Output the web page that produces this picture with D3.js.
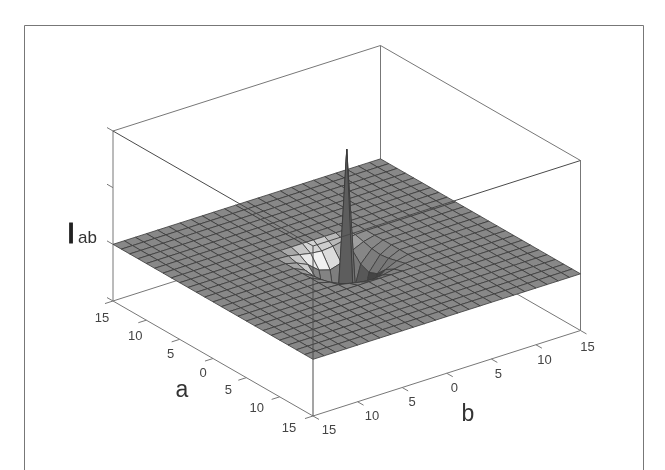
<!DOCTYPE html>
<html>
<head>
<meta charset="utf-8">
<script src="https://cdnjs.cloudflare.com/ajax/libs/d3/7.8.5/d3.min.js"></script>
<style>
  html, body { margin: 0; padding: 0; background: #fff; }
  svg { display: block; filter: blur(0.35px); }
  text { font-family: "Liberation Sans", Arial, sans-serif; }
</style>
</head>
<body>
<script>
// grid nodes on both axes
var gridA = [-15, -13.75, -12.5, -11.25, -10, -8.75, -7.5, -6.25, -5, -3.75, -2.5, -1.25, 0,
  1.25, 2.5, 3.75, 5, 6.25, 7.5, 8.75, 10, 11.25, 12.5, 13.75, 15];
var gridB = gridA.slice();
var pitA = [-3.75, -2.5, -1.25, 0, 1.25, 2.5, 3.75];
var pitB = [-3.75, -2.5, -1.25, 0, 1.25, 2.5, 3.75];

// heights, everything outside the pit sits at flatLevel
var flatLevel = 0;
var pitHeights = [
  [-0.01, -0.05, -0.09, -0.11, -0.09, -0.05, -0.01],
  [-0.05, -0.14, -0.30, -0.36, -0.30, -0.14, -0.05],
  [-0.09, -0.30, -1.0, -1.3, -1.0, -0.30, -0.09],
  [-0.11, -0.36, -1.3, 1.94, -1.3, -0.36, -0.11],
  [-0.09, -0.30, -1.0, -1.3, -1.0, -0.30, -0.09],
  [-0.05, -0.14, -0.30, -0.36, -0.30, -0.14, -0.05],
  [-0.01, -0.05, -0.09, -0.11, -0.09, -0.05, -0.01]
];

var abTicks = [-15, -10, -5, 0, 5, 10, 15];
var abTickLabels = ['15', '10', '5', '0', '5', '10', '15'];
var zTicks = [-1, 0, 1, 2];

var width = 665;
var height = 470;

var svg = d3.select('body').append('svg')
  .attr('width', width)
  .attr('height', height);

// frame, it runs off the bottom of the picture
svg.append('path')
  .attr('d', 'M24.5,470V25.5H643.5V470')
  .attr('fill', 'none')
  .attr('stroke', '#777')
  .attr('stroke-width', 1);

// oblique projection, each data axis gets its own x and y scale
var axX = d3.scaleLinear().domain([-15, 15]).range([0, 200]);
var axY = d3.scaleLinear().domain([-15, 15]).range([0, 115]);
var bxX = d3.scaleLinear().domain([-15, 15]).range([0, 267.5]);
var bxY = d3.scaleLinear().domain([-15, 15]).range([0, -85.5]);
var zY = d3.scaleLinear().domain([-1, 2]).range([0, -170]);

function project(a, b, z) {
  return [113 + axX(a) + bxX(b), 301 + axY(a) + bxY(b) + zY(z)];
}

function heightAt(a, b) {
  var i = pitA.indexOf(a);
  var j = pitB.indexOf(b);
  return i < 0 || j < 0 ? flatLevel : pitHeights[i][j];
}

var edge = d3.line();

function drawEdges(corners, color) {
  svg.append('g')
    .attr('fill', 'none')
    .attr('stroke', color)
    .attr('stroke-width', 1)
    .selectAll('path')
    .data(corners)
    .enter()
    .append('path')
    .attr('d', function(d) {
      return edge(d.map(function(c) {
        return project(c[0], c[1], c[2]);
      }));
    });
}

// box parts that sit behind the surface
drawEdges([
  [[-15, -15, -1], [-15, 15, -1], [15, 15, -1]],
  [[-15, 15, -1], [-15, 15, 2]],
  [[-15, -15, -1], [-15, -15, 2], [-15, 15, 2], [15, 15, 2], [15, 15, -1]],
  [[-15, -15, -1], [15, -15, -1], [15, 15, -1]]
], '#777');

// faces back to front so nearer ones paint over the far ones
var cells = [];
d3.range(gridA.length - 1).forEach(function(i) {
  d3.range(gridB.length - 2, -1, -1).forEach(function(j) {
    cells.push({a0: gridA[i], a1: gridA[i + 1], b0: gridB[j], b1: gridB[j + 1]});
  });
});

var light = [0.45, 0.15, 0.88];
var shade = d3.scaleLinear()
  .domain([0.2, 0.45, 0.88, 1])
  .range(['#444444', '#666666', '#888888', '#f4f4f4'])
  .clamp(true);

function faceBrightness(d) {
  // normal from the two diagonals, lit from both sides so the spike stays grey
  var z00 = heightAt(d.a0, d.b0);
  var z10 = heightAt(d.a1, d.b0);
  var z01 = heightAt(d.a0, d.b1);
  var z11 = heightAt(d.a1, d.b1);
  var k = 2.4;
  var na = -k * (z10 + z11 - z00 - z01) / 2;
  var nb = -k * (z01 + z11 - z00 - z10) / 2;
  var len = Math.sqrt(na * na + nb * nb + 1);
  return Math.abs(na * light[0] + nb * light[1] + light[2]) / len;
}

svg.append('g')
  .attr('stroke', '#3a3a3a')
  .attr('stroke-width', 0.8)
  .attr('stroke-linejoin', 'round')
  .selectAll('path')
  .data(cells)
  .enter()
  .append('path')
  .attr('d', function(d) {
    return edge([
      project(d.a0, d.b0, heightAt(d.a0, d.b0)),
      project(d.a1, d.b0, heightAt(d.a1, d.b0)),
      project(d.a1, d.b1, heightAt(d.a1, d.b1)),
      project(d.a0, d.b1, heightAt(d.a0, d.b1))
    ]) + 'Z';
  })
  .attr('fill', function(d) {
    return shade(faceBrightness(d));
  });

// box parts in front of the surface
drawEdges([
  [[-15, -15, 2], [15, -15, 2], [15, 15, 2]],
  [[15, -15, 2], [15, -15, -1]]
], '#4a4a4a');

// ticks, all outward from the box
var tickLen = 0.9;
var ticks = [];
abTicks.forEach(function(t) {
  ticks.push([[t, -15, -1], [t, -15 - tickLen, -1]]);
  ticks.push([[15, t, -1], [15 + tickLen, t, -1]]);
});
zTicks.forEach(function(z) {
  ticks.push([[-15, -15, z], [-15 - tickLen, -15, z]]);
});
drawEdges(ticks, '#777');

// tick labels were placed by hand in the original, so nudge them one by one
var aLabelDx = [-11, -11, -9, -10, -18, -23, -24];
var aLabelDy = [16, 15, 14, 13.5, 12, 11, 11];
var bLabelDx = [16, 14.5, 10, 7.5, 7, 8.5, 7];
var bLabelDy = [13, 13.3, 13.7, 14, 14.3, 14.7, 16];

var tickText = svg.append('g')
  .attr('font-size', 13)
  .attr('fill', '#444')
  .attr('text-anchor', 'middle');

abTicks.forEach(function(t, i) {
  var pa = project(t, -15, -1);
  tickText.append('text')
    .attr('x', pa[0] + aLabelDx[i])
    .attr('y', pa[1] + aLabelDy[i])
    .attr('dy', '0.35em')
    .text(abTickLabels[i]);
  var pb = project(15, t, -1);
  tickText.append('text')
    .attr('x', pb[0] + bLabelDx[i])
    .attr('y', pb[1] + bLabelDy[i])
    .attr('dy', '0.35em')
    .text(abTickLabels[i]);
});

// axis titles
svg.append('text').attr('x', 182).attr('y', 397)
  .attr('font-size', 23).attr('text-anchor', 'middle').attr('fill', '#333').text('a');
svg.append('text').attr('x', 468).attr('y', 421)
  .attr('font-size', 23).attr('text-anchor', 'middle').attr('fill', '#333').text('b');
svg.append('text').attr('x', 71).attr('y', 243)
  .attr('font-size', 29).attr('text-anchor', 'middle').attr('fill', '#222')
  .attr('stroke', '#222').attr('stroke-width', 1).text('I');
svg.append('text').attr('x', 78).attr('y', 243)
  .attr('font-size', 17).attr('fill', '#333').text('ab');
</script>
</body>
</html>
